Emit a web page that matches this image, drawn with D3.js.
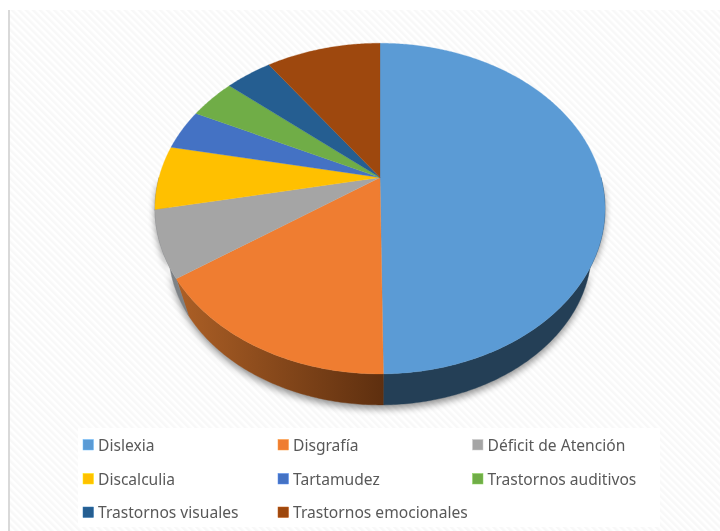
<!DOCTYPE html>
<html lang="es">
<head>
<meta charset="utf-8">
<style>html,body{margin:0;padding:0;background:#fff;overflow:hidden}svg{display:block}</style>
<script src="https://cdn.jsdelivr.net/npm/d3@7/dist/d3.min.js"></script>
</head>
<body>
<svg id="chart" width="720" height="531"></svg>
<script>
const categories = ["Dislexia","Disgrafía","Déficit de Atención","Discalculia","Tartamudez","Trastornos auditivos","Trastornos visuales","Trastornos emocionales"];
const values = [49.8,15.6,6.5,6.25,4,4,4,9.85];
const colors = ["#5b9bd5","#ef7d31","#a5a5a5","#ffc000","#4472c4","#70ad47","#255e91","#9e480e"];
const sideColors = ["#243f56","url(#orangeSide)","#7d8286","#7d8286","#7d8286","#7d8286","#7d8286","#7d8286"];

const W = 720, H = 531;
const cx = 380, cy = 177.5, A = 159.5, B = 221, k = 0.188;
const vpY = 890, shrink = 0.94;

const svg = d3.select("#chart");
const defs = svg.append("defs");
const hatch = defs.append("pattern").attr("id","hatch").attr("width",5).attr("height",5)
  .attr("patternUnits","userSpaceOnUse").attr("patternTransform","rotate(-45)");
hatch.append("rect").attr("width",5).attr("height",5).attr("fill","#ffffff");
hatch.append("rect").attr("width",2.5).attr("height",5).attr("fill","#f8f8f8");
const grad = defs.append("linearGradient").attr("id","orangeSide").attr("gradientUnits","userSpaceOnUse")
  .attr("x1",175).attr("x2",384).attr("y1",0).attr("y2",0);
grad.append("stop").attr("offset","0").attr("stop-color","#ad6026");
grad.append("stop").attr("offset","1").attr("stop-color","#5e2f0f");
defs.append("filter").attr("id","soft").attr("x","-10%").attr("y","-10%").attr("width","120%").attr("height","120%")
  .append("feGaussianBlur").attr("stdDeviation",3.5);
defs.append("filter").attr("id","textSoft").append("feGaussianBlur").attr("stdDeviation",0.3);

svg.append("rect").attr("width",W).attr("height",H).attr("fill","#fff");
svg.append("rect").attr("x",10).attr("y",10).attr("width",W-10).attr("height",H-10).attr("fill","url(#hatch)");
svg.append("rect").attr("x",8).attr("y",10).attr("width",2).attr("height",H-10).attr("fill","#d9d9d9");

// perspective projection of the unit disc
function topRim(t){
  const x = Math.sin(t), y = -Math.cos(t), w = 1 - k*y;
  return [cx + B*x/w, cy + A*y/w];
}
function bottomRim(t){
  const p = topRim(t);
  return [cx + (p[0]-cx)*shrink, vpY + (p[1]-vpY)*shrink];
}
const arcs = d3.pie().sort(null).value(d=>d).startAngle(0).endAngle(2*Math.PI)(values);
const samples = (a,b) => { const n = Math.max(2,Math.ceil((b-a)/0.01)); return d3.range(n+1).map(i=>a+(b-a)*i/n); };
const line = d3.line();

const nearA = Math.PI/2, nearB = 3*Math.PI/2;
// shadow
svg.append("path")
  .attr("d", line(samples(nearA,nearB).map(bottomRim).concat(samples(nearA,nearB).reverse().map(topRim))) + "Z")
  .attr("transform","translate(0,4)").attr("fill","#000").attr("opacity",0.42).attr("filter","url(#soft)");

// side wall
svg.append("g").selectAll("path").data(arcs).join("path")
  .attr("d", d => {
    const a = Math.max(d.startAngle,nearA), b = Math.min(d.endAngle,nearB);
    if (b <= a) return null;
    const s = samples(a,b);
    return line(s.map(topRim).concat(s.slice().reverse().map(bottomRim))) + "Z";
  })
  .attr("fill",(d,i)=>sideColors[i])
  .attr("stroke",(d,i)=>sideColors[i]).attr("stroke-width",0.4);

// top face
svg.append("g").selectAll("path").data(arcs).join("path")
  .attr("d", d => line([[cx,cy]].concat(samples(d.startAngle,d.endAngle).map(topRim))) + "Z")
  .attr("fill",(d,i)=>colors[i])
  .attr("stroke",(d,i)=>colors[i]).attr("stroke-width",0.3);

// legend
svg.append("rect").attr("x",78).attr("y",428).attr("width",582).attr("height",99).attr("fill","#fff");
const colX = [83,278,472.5], rowY = [445,479,512.5];
const leg = svg.append("g").selectAll("g").data(categories).join("g")
  .attr("transform",(d,i)=>`translate(${colX[i%3]},${rowY[Math.floor(i/3)]})`);
leg.append("rect").attr("y",-5.5).attr("width",10.5).attr("height",10.5)
  .attr("fill",(d,i)=>colors[i]).attr("stroke",(d,i)=>d3.color(colors[i]).brighter(0.6)).attr("stroke-width",0.5);
leg.append("text").text(d=>d).attr("x",15).attr("y",0).attr("dy","0.36em")
  .attr("font-family","'Noto Sans',sans-serif").attr("font-size",15.6).attr("fill","#595959")
  .attr("filter","url(#textSoft)");
</script>
</body>
</html>
